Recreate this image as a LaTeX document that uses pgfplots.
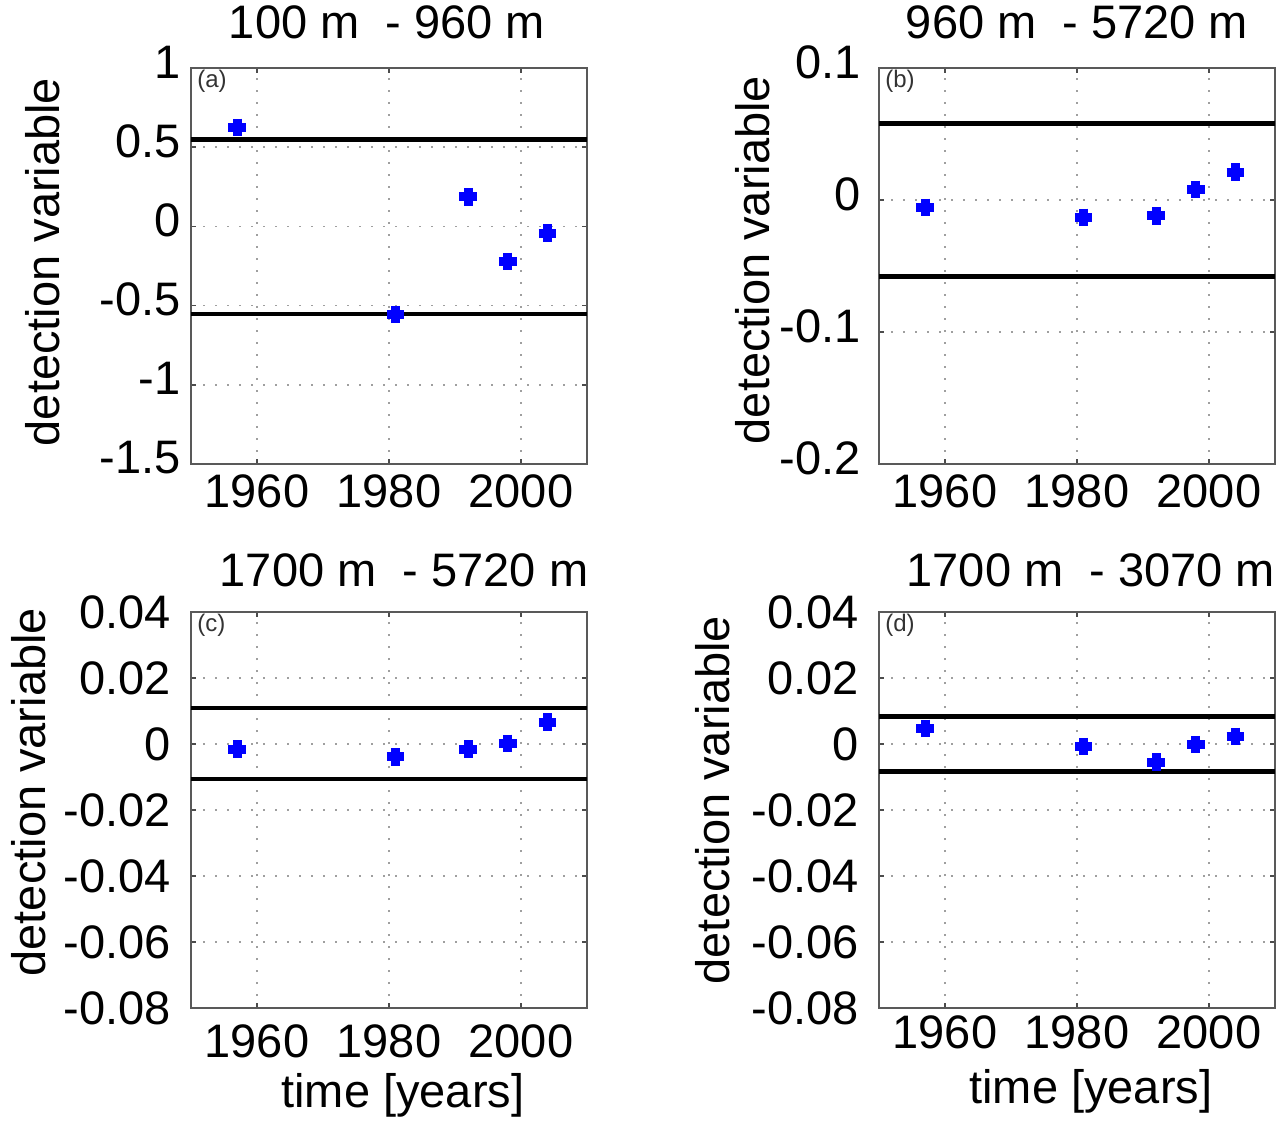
\documentclass[border=0pt]{standalone}
\usepackage{fontspec}
\setmainfont{Liberation Sans}
\usepackage{pgfplots}
\pgfplotsset{compat=1.18}

% common look of the four panels
\pgfplotsset{
  panel/.style={
    scale only axis, width=198pt, height=198pt,
    anchor=south west,
    xmin=1950, xmax=2010,
    xtick={1960,1980,2000}, xticklabels={1960,1980,2000},
    axis line style={black!65, line width=0.75pt},
    grid=major,
    major grid style={gray!75, line width=0.8pt, dash pattern=on 0.8pt off 5.2pt},
    tick align=inside, major tick length=2.5pt,
    tick style={black!70, line width=0.75pt},
    ticklabel style={font=\fontsize{23.5}{28}\selectfont},
    label style={font=\fontsize{23.5}{28}\selectfont},
    title style={font=\fontsize{23.5}{28}\selectfont, anchor=base},
    yticklabel style={anchor=east, inner xsep=0pt},
    ylabel={detection variable},
    ylabel style={anchor=center},
    scaled y ticks=false,
  },
  pts/.style={only marks, mark=+, color=blue,
    mark options={line width=4.6pt}, mark size=4.4pt},
  lim/.style={black, line width=2.3pt, forget plot},
}

\begin{document}
\begin{tikzpicture}
\useasboundingbox (0,0) rectangle (641.5pt,562.5pt);

% (a)
\begin{axis}[panel, at={(95.5pt,330.5pt)},
    ymin=-1.5, ymax=1, ytick={-1.5,-1,-0.5,0,0.5,1},
    yticklabels={-1.5,-1,-0.5,0,0.5,1},
    yticklabel style={xshift=-5pt, yshift=3pt},
    xticklabel style={yshift=-1.7pt},
    ylabel style={at={(axis description cs:-0.374,0.51)}},
    title={100 m\ \ - 960 m},
    title style={at={(axis description cs:0.495,1)}, yshift=8.5pt}]
\addplot[lim] coordinates {(1950,0.55)(2010,0.55)};
\addplot[lim] coordinates {(1950,-0.553)(2010,-0.553)};
\addplot[pts] coordinates {(1957,0.625)(1981,-0.557)(1992,0.187)(1998,-0.221)(2004,-0.043)};
\node[anchor=north west, inner sep=0pt, text=black!80, font=\fontsize{12}{14}\selectfont]
  at (axis description cs:0.015,0.995) {(a)};
\end{axis}

% (b)
\begin{axis}[panel, at={(439.5pt,330.5pt)},
    ymin=-0.2, ymax=0.1, ytick={-0.2,-0.1,0,0.1},
    yticklabels={-0.2,-0.1,0,0.1},
    yticklabel style={xshift=-9pt, yshift=3pt},
    xticklabel style={yshift=-1.7pt},
    ylabel style={at={(axis description cs:-0.32,0.515)}},
    title={960 m\ \ - 5720 m},
    title style={at={(axis description cs:0.5,1)}, yshift=8.5pt}]
\addplot[lim] coordinates {(1950,0.058)(2010,0.058)};
\addplot[lim] coordinates {(1950,-0.058)(2010,-0.058)};
\addplot[pts] coordinates {(1957,-0.0057)(1981,-0.0132)(1992,-0.0119)(1998,0.008)(2004,0.021)};
\node[anchor=north west, inner sep=0pt, text=black!80, font=\fontsize{12}{14}\selectfont]
  at (axis description cs:0.015,0.995) {(b)};
\end{axis}

% (c)
\begin{axis}[panel, at={(95.5pt,58.5pt)},
    ymin=-0.08, ymax=0.04, ytick={-0.08,-0.06,-0.04,-0.02,0,0.02,0.04},
    yticklabels={-0.08,-0.06,-0.04,-0.02,0,0.02,0.04},
    yticklabel style={xshift=-10pt},
    xticklabel style={yshift=-4.7pt},
    ylabel style={at={(axis description cs:-0.41,0.545)}},
    xlabel={time [years]},
    xlabel style={at={(axis description cs:0.535,-0.22)}, anchor=center},
    title={1700 m\ \ - 5720 m},
    title style={at={(axis description cs:0.538,1)}, yshift=7pt}]
\addplot[lim] coordinates {(1950,0.0109)(2010,0.0109)};
\addplot[lim] coordinates {(1950,-0.0106)(2010,-0.0106)};
\addplot[pts] coordinates {(1957,-0.0016)(1981,-0.0039)(1992,-0.0016)(1998,0.0002)(2004,0.0066)};
\node[anchor=north west, inner sep=0pt, text=black!80, font=\fontsize{12}{14}\selectfont]
  at (axis description cs:0.015,0.995) {(c)};
\end{axis}

% (d)
\begin{axis}[panel, at={(439.5pt,58.5pt)},
    ymin=-0.08, ymax=0.04, ytick={-0.08,-0.06,-0.04,-0.02,0,0.02,0.04},
    yticklabels={-0.08,-0.06,-0.04,-0.02,0,0.02,0.04},
    yticklabel style={xshift=-10pt},
    xticklabel style={yshift=-0.3pt},
    ylabel style={at={(axis description cs:-0.42,0.525)}},
    xlabel={time [years]},
    xlabel style={at={(axis description cs:0.535,-0.21)}, anchor=center},
    title={1700 m\ \ - 3070 m},
    title style={at={(axis description cs:0.535,1)}, yshift=7pt}]
\addplot[lim] coordinates {(1950,0.0084)(2010,0.0084)};
\addplot[lim] coordinates {(1950,-0.0084)(2010,-0.0084)};
\addplot[pts] coordinates {(1957,0.0047)(1981,-0.0008)(1992,-0.0055)(1998,-0.0002)(2004,0.0023)};
\node[anchor=north west, inner sep=0pt, text=black!80, font=\fontsize{12}{14}\selectfont]
  at (axis description cs:0.015,0.995) {(d)};
\end{axis}
\end{tikzpicture}
\end{document}
